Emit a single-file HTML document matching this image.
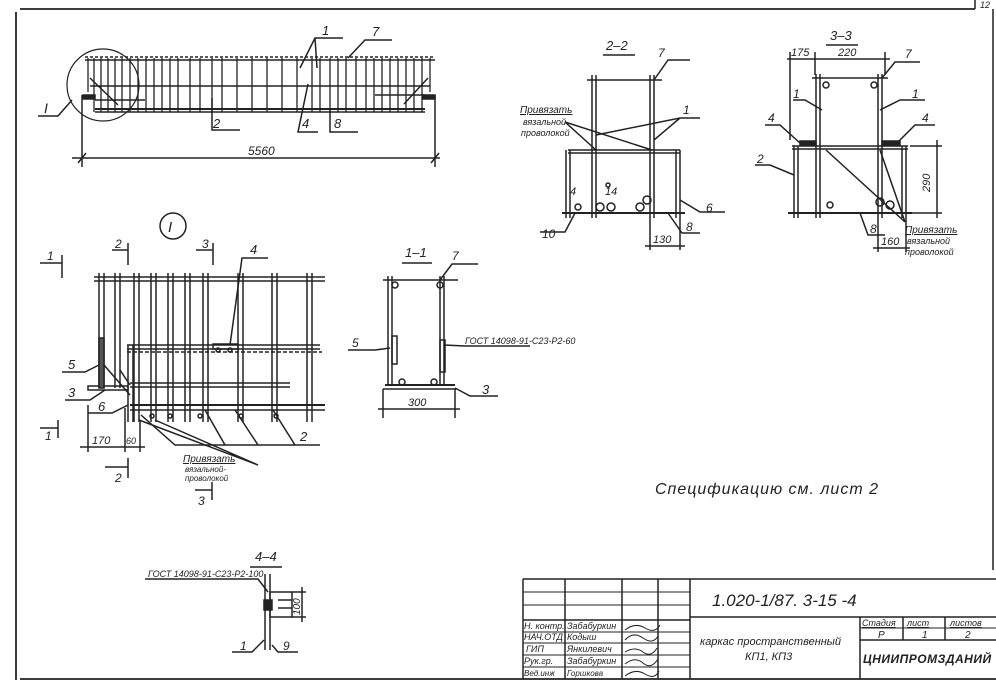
<!DOCTYPE html>
<html><head><meta charset="utf-8"><style>
html,body{margin:0;padding:0;background:#fff;}
svg{display:block;}
text{font-family:"Liberation Sans","DejaVu Sans",sans-serif;font-style:italic;fill:#222;}
</style></head><body>
<svg width="996" height="685" viewBox="0 0 996 685" xmlns="http://www.w3.org/2000/svg" stroke="#222" fill="none" stroke-width="1.5">
<rect width="996" height="685" fill="#fff" stroke="none"/>
<!-- frame -->
<line x1="20" y1="9" x2="975" y2="9" stroke-width="1.8"/>
<line x1="16" y1="12" x2="16" y2="680" stroke-width="1.8"/>
<line x1="20" y1="679" x2="996" y2="679" stroke-width="1.8"/>
<line x1="975" y1="0" x2="975" y2="9"/><line x1="993" y1="9" x2="993" y2="570"/>
<text x="980" y="8" font-size="9" stroke="none">12</text>

<!-- TOP VIEW -->
<g>
<line x1="85" y1="57" x2="435" y2="57" stroke-dasharray="3 2"/>
<line x1="85" y1="60" x2="435" y2="60"/>
<line x1="90" y1="86" x2="430" y2="86"/>
<line x1="95" y1="109" x2="425" y2="109" stroke-width="2"/>
<line x1="95" y1="112" x2="425" y2="112"/>
<g stroke-width="1.3">
<line x1="88" y1="58" x2="88" y2="92"/><line x1="94" y1="58" x2="94" y2="112"/><line x1="101" y1="58" x2="101" y2="112"/>
<line x1="108" y1="58" x2="108" y2="112"/><line x1="115" y1="58" x2="115" y2="112"/><line x1="122" y1="58" x2="122" y2="112"/>
<line x1="130" y1="58" x2="130" y2="112"/><line x1="138" y1="58" x2="138" y2="112"/><line x1="146" y1="58" x2="146" y2="112"/>
<line x1="154" y1="58" x2="154" y2="112"/><line x1="162" y1="58" x2="162" y2="112"/><line x1="170" y1="58" x2="170" y2="112"/>
<line x1="178" y1="58" x2="178" y2="112"/><line x1="190" y1="58" x2="190" y2="112"/><line x1="200" y1="58" x2="200" y2="112"/>
<line x1="212" y1="58" x2="212" y2="112"/><line x1="222" y1="58" x2="222" y2="112"/><line x1="237" y1="58" x2="237" y2="112"/>
<line x1="252" y1="58" x2="252" y2="112"/><line x1="267" y1="58" x2="267" y2="112"/><line x1="282" y1="58" x2="282" y2="112"/>
<line x1="297" y1="58" x2="297" y2="112"/><line x1="312" y1="58" x2="312" y2="112"/><line x1="320" y1="58" x2="320" y2="112"/>
<line x1="330" y1="58" x2="330" y2="112"/><line x1="338" y1="58" x2="338" y2="112"/><line x1="346" y1="58" x2="346" y2="112"/>
<line x1="356" y1="58" x2="356" y2="112"/><line x1="366" y1="58" x2="366" y2="112"/><line x1="374" y1="58" x2="374" y2="112"/>
<line x1="382" y1="58" x2="382" y2="112"/><line x1="390" y1="58" x2="390" y2="112"/><line x1="398" y1="58" x2="398" y2="112"/>
<line x1="406" y1="58" x2="406" y2="112"/><line x1="414" y1="58" x2="414" y2="112"/><line x1="422" y1="58" x2="422" y2="112"/>
<line x1="430" y1="58" x2="430" y2="92"/>
</g>
<line x1="90" y1="78" x2="118" y2="105"/><line x1="428" y1="78" x2="404" y2="104"/>
<line x1="95" y1="100" x2="145" y2="100"/><line x1="375" y1="95" x2="425" y2="95"/>
<rect x="83" y="95" width="12" height="4" fill="#222"/><rect x="423" y="95" width="12" height="4" fill="#222"/>
<circle cx="103" cy="85" r="36" stroke-width="1.2"/>
<path d="M72 100 L58 116 L38 116"/><text x="44" y="113" font-size="14" stroke="none">I</text>
<path d="M212 98 L212 130 L240 130"/><text x="213" y="128" font-size="13" stroke="none">2</text>
<path d="M308 84 L298 132 L318 132"/><text x="302" y="128" font-size="13" stroke="none">4</text>
<path d="M330 110 L330 132 L358 132"/><text x="334" y="128" font-size="13" stroke="none">8</text>
<path d="M300 68 L315 38 L343 38 M315 38 L317 68"/><text x="322" y="35" font-size="13" stroke="none">1</text>
<path d="M348 58 L365 40 L392 40"/><text x="372" y="36" font-size="13" stroke="none">7</text>
<line x1="72" y1="158" x2="440" y2="158"/>
<line x1="82" y1="95" x2="82" y2="167"/><line x1="435" y1="95" x2="435" y2="167"/>
<line x1="78" y1="163" x2="86" y2="153"/><line x1="431" y1="163" x2="439" y2="153"/>
<text x="248" y="155" font-size="12" stroke="none">5560</text>
</g>

<!-- SECTION 2-2 -->
<g>
<text x="606" y="50" font-size="13" stroke="none">2–2</text><line x1="603" y1="55" x2="635" y2="55"/>
<line x1="587" y1="80" x2="662" y2="80"/>
<line x1="592" y1="75" x2="592" y2="218"/><line x1="596" y1="75" x2="596" y2="218"/>
<line x1="650" y1="75" x2="650" y2="218"/><line x1="654" y1="75" x2="654" y2="218"/>
<line x1="568" y1="150" x2="680" y2="150"/><line x1="568" y1="153" x2="680" y2="153"/>
<line x1="566" y1="150" x2="566" y2="218"/><line x1="570" y1="150" x2="570" y2="218"/>
<line x1="676" y1="150" x2="676" y2="218"/><line x1="680" y1="150" x2="680" y2="218"/>
<line x1="562" y1="213" x2="685" y2="213" stroke-width="2"/>
<circle cx="600" cy="207" r="4"/><circle cx="611" cy="207" r="4"/><circle cx="640" cy="207" r="4"/><circle cx="647" cy="200" r="4"/><circle cx="578" cy="207" r="3"/>
<circle cx="608" cy="185" r="2"/>
<path d="M654 80 L668 60 L690 60"/><text x="658" y="57" font-size="12" stroke="none">7</text>
<path d="M596 135 L680 118 L700 118 M654 140 L680 118"/><text x="683" y="114" font-size="12" stroke="none">1</text>
<text x="520" y="113" font-size="10" stroke="none" text-decoration="underline">Привязать</text>
<text x="523" y="125" font-size="9" stroke="none">вязальной</text>
<text x="521" y="136" font-size="9" stroke="none">проволокой</text>
<path d="M565 122 L596 150 M565 122 L652 150"/>
<text x="570" y="195" font-size="11" stroke="none">4</text><text x="605" y="195" font-size="11" stroke="none">14</text>
<path d="M575 213 L565 232 L540 232"/><text x="542" y="238" font-size="12" stroke="none">10</text>
<path d="M680 200 L700 212 L725 212"/><text x="706" y="212" font-size="12" stroke="none">6</text>
<path d="M668 213 L682 233 L700 233"/><text x="686" y="231" font-size="12" stroke="none">8</text>
<line x1="650" y1="218" x2="650" y2="250"/><line x1="680" y1="218" x2="680" y2="250"/><line x1="645" y1="246" x2="685" y2="246"/>
<text x="653" y="243" font-size="11" stroke="none">130</text>
</g>

<!-- SECTION 3-3 -->
<g>
<text x="830" y="40" font-size="13" stroke="none">3–3</text><line x1="826" y1="45" x2="858" y2="45"/>
<line x1="787" y1="59" x2="890" y2="59"/><text x="791" y="56" font-size="11" stroke="none">175</text><text x="838" y="56" font-size="11" stroke="none">220</text>
<line x1="790" y1="52" x2="790" y2="140"/><line x1="815" y1="52" x2="815" y2="75"/><line x1="885" y1="52" x2="885" y2="75"/>
<line x1="812" y1="78" x2="888" y2="78"/>
<line x1="816" y1="74" x2="816" y2="218"/><line x1="820" y1="74" x2="820" y2="218"/>
<line x1="878" y1="74" x2="878" y2="218"/><line x1="882" y1="74" x2="882" y2="218"/>
<line x1="792" y1="146" x2="908" y2="146"/><line x1="792" y1="149" x2="908" y2="149"/>
<line x1="794" y1="146" x2="794" y2="218"/><line x1="798" y1="146" x2="798" y2="218"/>
<line x1="902" y1="146" x2="902" y2="218"/><line x1="906" y1="146" x2="906" y2="218"/>
<line x1="788" y1="213" x2="912" y2="213" stroke-width="2"/>
<circle cx="826" cy="85" r="3"/><circle cx="874" cy="85" r="3"/><circle cx="880" cy="202" r="4"/><circle cx="890" cy="205" r="4"/><circle cx="830" cy="205" r="3"/>
<rect x="800" y="141" width="16" height="4" fill="#222"/><rect x="882" y="141" width="18" height="4" fill="#222"/>
<path d="M882 78 L895 62 L920 62"/><text x="905" y="58" font-size="12" stroke="none">7</text>
<path d="M822 110 L805 100 L793 100"/><text x="793" y="98" font-size="12" stroke="none">1</text>
<path d="M880 110 L900 100 L925 100"/><text x="912" y="98" font-size="12" stroke="none">1</text>
<path d="M800 143 L780 125 L765 125"/><text x="768" y="122" font-size="12" stroke="none">4</text>
<path d="M897 143 L915 125 L935 125"/><text x="922" y="122" font-size="12" stroke="none">4</text>
<path d="M794 175 L770 165 L755 165"/><text x="757" y="163" font-size="12" stroke="none">2</text>
<line x1="910" y1="146" x2="942" y2="146"/><line x1="910" y1="213" x2="942" y2="213"/><line x1="937" y1="140" x2="937" y2="218"/>
<text x="930" y="192" font-size="11" stroke="none" transform="rotate(-90 930 192)">290</text>
<path d="M826 150 L905 222 M880 150 L905 222"/>
<text x="905" y="233" font-size="10" stroke="none" text-decoration="underline">Привязать</text>
<text x="907" y="244" font-size="9" stroke="none">вязальной</text>
<text x="905" y="255" font-size="9" stroke="none">проволокой</text>
<path d="M860 213 L868 235 L885 235"/><text x="870" y="233" font-size="12" stroke="none">8</text>
<line x1="878" y1="218" x2="878" y2="252"/><line x1="906" y1="218" x2="906" y2="252"/><line x1="873" y1="248" x2="910" y2="248"/>
<text x="881" y="245" font-size="11" stroke="none">160</text>
</g>

<!-- DETAIL I -->
<g>
<circle cx="173" cy="226" r="13"/><text x="168" y="232" font-size="15" stroke="none">I</text>
<path d="M40 263 L62 263 M62 255 L62 278"/><text x="47" y="260" font-size="12" stroke="none">1</text>
<path d="M112 250 L128 250 M128 243 L128 265"/><text x="115" y="248" font-size="12" stroke="none">2</text>
<path d="M196 250 L213 250 M213 243 L213 265"/><text x="202" y="248" font-size="12" stroke="none">3</text>
<line x1="94" y1="277" x2="325" y2="277"/><line x1="94" y1="281" x2="325" y2="281"/>
<g>
<line x1="99" y1="273" x2="99" y2="388"/><line x1="104" y1="273" x2="104" y2="388"/>
<line x1="115" y1="273" x2="115" y2="388"/><line x1="120" y1="273" x2="120" y2="388"/>
<line x1="134" y1="273" x2="134" y2="422"/><line x1="139" y1="273" x2="139" y2="422"/>
<line x1="151" y1="273" x2="151" y2="422"/><line x1="156" y1="273" x2="156" y2="422"/>
<line x1="168" y1="273" x2="168" y2="422"/><line x1="173" y1="273" x2="173" y2="422"/>
<line x1="185" y1="273" x2="185" y2="422"/><line x1="190" y1="273" x2="190" y2="422"/>
<line x1="203" y1="273" x2="203" y2="422"/><line x1="208" y1="273" x2="208" y2="422"/>
<line x1="238" y1="273" x2="238" y2="422"/><line x1="243" y1="273" x2="243" y2="422"/>
<line x1="272" y1="273" x2="272" y2="422"/><line x1="277" y1="273" x2="277" y2="422"/>
<line x1="307" y1="273" x2="307" y2="422"/><line x1="312" y1="273" x2="312" y2="422"/>
<line x1="128" y1="345" x2="128" y2="422"/><line x1="133" y1="345" x2="133" y2="422"/>
</g>
<line x1="127" y1="345" x2="320" y2="345"/><line x1="127" y1="349" x2="320" y2="349"/>
<line x1="127" y1="352" x2="322" y2="352" stroke-dasharray="4 2"/>
<line x1="130" y1="383" x2="290" y2="383"/><line x1="130" y1="387" x2="290" y2="387"/>
<line x1="130" y1="405" x2="325" y2="405" stroke-width="2"/><line x1="130" y1="410" x2="325" y2="410"/>
<rect x="88" y="386" width="40" height="4"/>
<rect x="99" y="338" width="5" height="50" fill="#555"/>
<rect x="213" y="344" width="25" height="5"/><circle cx="218" cy="350" r="2"/><circle cx="230" cy="350" r="2"/>
<circle cx="152" cy="416" r="2"/><circle cx="170" cy="416" r="2"/><circle cx="200" cy="416" r="2"/><circle cx="241" cy="416" r="2"/><circle cx="276" cy="416" r="2"/>
<line x1="104" y1="365" x2="130" y2="395"/><line x1="120" y1="370" x2="130" y2="385"/>
<path d="M230 345 L242 258 L268 258"/><text x="250" y="254" font-size="13" stroke="none">4</text>
<path d="M99 365 L85 372 L62 372"/><text x="68" y="369" font-size="13" stroke="none">5</text>
<path d="M105 390 L90 400 L65 400"/><text x="68" y="397" font-size="13" stroke="none">3</text>
<path d="M128 405 L112 413 L88 413"/><text x="98" y="411" font-size="13" stroke="none">6</text>
<path d="M141 415 L175 445 L320 445 M205 410 L225 445 M235 410 L258 445 M273 410 L295 445"/><text x="300" y="441" font-size="13" stroke="none">2</text>
<path d="M139 420 L258 465 M155 420 L258 465"/>
<text x="183" y="462" font-size="10" stroke="none" text-decoration="underline">Привязать</text>
<text x="185" y="472" font-size="8" stroke="none">вязальной-</text>
<text x="185" y="481" font-size="8" stroke="none">проволокой</text>
<line x1="88" y1="405" x2="88" y2="452"/><line x1="125" y1="408" x2="125" y2="452"/><line x1="140" y1="420" x2="140" y2="452"/>
<line x1="80" y1="447" x2="145" y2="447"/>
<text x="92" y="444" font-size="11" stroke="none">170</text><text x="126" y="444" font-size="9" stroke="none">60</text>
<path d="M40 428 L58 428 M58 420 L58 438"/><text x="45" y="440" font-size="12" stroke="none">1</text>
<path d="M105 467 L128 467 M128 458 L128 478"/><text x="115" y="482" font-size="12" stroke="none">2</text>
<path d="M195 490 L212 490 M212 482 L212 500"/><text x="198" y="505" font-size="12" stroke="none">3</text>
</g>

<!-- SECTION 1-1 -->
<g>
<text x="405" y="257" font-size="13" stroke="none">1–1</text><line x1="402" y1="263" x2="432" y2="263"/>
<line x1="383" y1="280" x2="458" y2="280"/>
<line x1="388" y1="276" x2="388" y2="386"/><line x1="392" y1="276" x2="392" y2="386"/>
<line x1="440" y1="276" x2="440" y2="386"/><line x1="444" y1="276" x2="444" y2="386"/>
<rect x="392" y="336" width="5" height="28"/><rect x="440" y="340" width="5" height="32"/>
<line x1="385" y1="385" x2="455" y2="385" stroke-width="2"/><line x1="383" y1="389" x2="456" y2="389"/>
<circle cx="402" cy="382" r="3"/><circle cx="434" cy="382" r="3"/><circle cx="395" cy="285" r="3"/><circle cx="440" cy="285" r="3"/>
<path d="M440 280 L452 264 L478 264"/><text x="452" y="260" font-size="12" stroke="none">7</text>
<path d="M390 348 L375 350 L348 350"/><text x="352" y="347" font-size="12" stroke="none">5</text>
<path d="M444 345 L465 346 L530 346"/><text x="465" y="344" font-size="9" stroke="none">ГОСТ 14098-91-С23-Р2-60</text>
<path d="M455 388 L470 396 L498 396"/><text x="482" y="394" font-size="13" stroke="none">3</text>
<line x1="378" y1="409" x2="460" y2="409"/><line x1="383" y1="389" x2="383" y2="418"/><line x1="455" y1="389" x2="455" y2="418"/>
<text x="408" y="406" font-size="11" stroke="none">300</text>
</g>

<text x="655" y="494" font-size="16" stroke="none" letter-spacing="1">Спецификацию  см.  лист  2</text>

<!-- SECTION 4-4 -->
<g>
<text x="255" y="561" font-size="13" stroke="none">4–4</text><line x1="250" y1="567" x2="282" y2="567"/>
<line x1="265" y1="574" x2="265" y2="650"/><line x1="270" y1="574" x2="270" y2="650"/>
<rect x="270" y="592" width="22" height="25"/><line x1="278" y1="600" x2="292" y2="600"/><line x1="278" y1="608" x2="292" y2="608"/>
<rect x="264" y="600" width="8" height="10" fill="#222"/>
<line x1="292" y1="592" x2="306" y2="592"/><line x1="292" y1="617" x2="306" y2="617"/><line x1="302" y1="587" x2="302" y2="622"/>
<text x="300" y="615" font-size="10" stroke="none" transform="rotate(-90 300 615)">100</text>
<path d="M268 592 L258 579 L145 579"/><text x="148" y="577" font-size="9" stroke="none">ГОСТ 14098-91-С23-Р2-100</text>
<path d="M264 640 L252 652 L232 652"/><text x="240" y="650" font-size="12" stroke="none">1</text>
<path d="M272 645 L278 652 L298 652"/><text x="283" y="650" font-size="12" stroke="none">9</text>
</g>

<!-- TITLE BLOCK -->
<g stroke-width="1.5">
<line x1="523" y1="579" x2="996" y2="579"/>
<line x1="523" y1="579" x2="523" y2="679"/>
<line x1="690" y1="579" x2="690" y2="679"/>
<line x1="565" y1="579" x2="565" y2="679"/><line x1="622" y1="579" x2="622" y2="679"/><line x1="658" y1="579" x2="658" y2="679"/>
<line x1="523" y1="592" x2="690" y2="592" stroke-width="1"/>
<line x1="523" y1="605" x2="690" y2="605" stroke-width="1"/>
<line x1="523" y1="620" x2="690" y2="620"/>
<line x1="523" y1="632" x2="690" y2="632" stroke-width="1"/>
<line x1="523" y1="643" x2="690" y2="643" stroke-width="1"/>
<line x1="523" y1="655" x2="690" y2="655" stroke-width="1"/>
<line x1="523" y1="667" x2="690" y2="667" stroke-width="1"/>
<line x1="690" y1="617" x2="996" y2="617"/>
<line x1="860" y1="617" x2="860" y2="679"/>
<line x1="860" y1="628" x2="996" y2="628" stroke-width="1"/>
<line x1="860" y1="640" x2="996" y2="640"/>
<line x1="903" y1="617" x2="903" y2="640"/><line x1="945" y1="617" x2="945" y2="640"/>
</g>
<g stroke="none">
<text x="712" y="606" font-size="17">1.020-1/87.   3-15       -4</text>
<text x="524" y="629" font-size="9">Н. контр.</text><text x="567" y="629" font-size="9">Забабуркин</text>
<text x="524" y="640" font-size="9" font-style="normal">НАЧ.ОТД</text><text x="567" y="640" font-size="9" font-style="normal">Кодыш</text>
<text x="526" y="652" font-size="9">ГИП</text><text x="567" y="652" font-size="9">Янкилевич</text>
<text x="524" y="664" font-size="9" font-style="normal">Рук.гр.</text><text x="567" y="664" font-size="9" font-style="normal">Забабуркин</text>
<text x="524" y="676" font-size="8" font-style="normal">Вед.инж</text><text x="567" y="676" font-size="8" font-style="normal">Горшкова</text>
<text x="700" y="645" font-size="11">каркас  пространственный</text>
<text x="745" y="660" font-size="11">КП1, КП3</text>
<text x="862" y="626" font-size="9" text-decoration="underline">Стадия</text>
<text x="907" y="626" font-size="9" text-decoration="underline">лист</text>
<text x="950" y="626" font-size="9" text-decoration="underline">листов</text>
<text x="878" y="638" font-size="10">Р</text><text x="922" y="638" font-size="10">1</text><text x="965" y="638" font-size="10">2</text>
<text x="863" y="663" font-size="12" font-style="normal" font-weight="bold" letter-spacing="0.5">ЦНИИПРОМЗДАНИЙ</text>
</g>
<g stroke-width="1">
<path d="M625 630 q10 -8 20 -2 t15 -3"/><path d="M625 640 q8 -9 18 -2 t15 -2"/><path d="M625 652 q10 -6 18 0 t14 -4"/>
<path d="M625 664 q10 -8 18 -1 t15 -4"/><path d="M625 676 q10 -8 20 -2 t14 -3"/>
</g>
</svg>
</body></html>
